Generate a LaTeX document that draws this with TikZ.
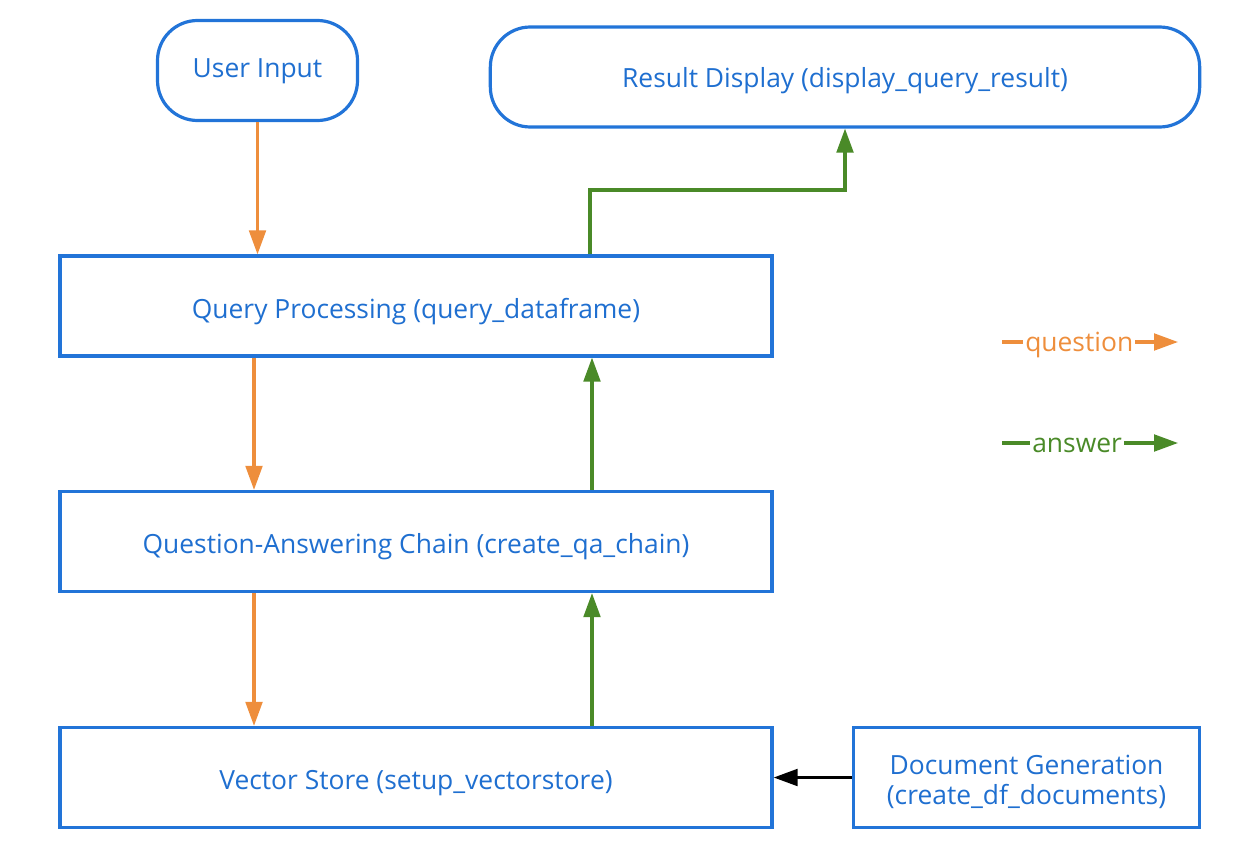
\documentclass[tikz,border=0pt]{standalone}
\usepackage{fontspec}
\setmainfont{Open Sans}
\usetikzlibrary{arrows.meta}
\definecolor{bblue}{HTML}{2274D8}
\definecolor{tblue}{HTML}{1F6FD0}
\definecolor{qorange}{HTML}{EE8E3C}
\definecolor{agreen}{HTML}{4A8A28}
\tikzset{
  box/.style={draw=bblue, line width=2.4pt, text=tblue, font=\fontsize{19.8}{22.5}\selectfont, align=center, inner sep=0pt, text height=18pt, text depth=0pt},
  rbox/.style={box, rounded corners=30pt},
  tip/.style={-{Triangle[length=18pt,width=12.5pt]}},
  oarr/.style={draw=qorange, line width=2.3pt, tip},
  garr/.style={draw=agreen, line width=2.3pt, tip},
  karr/.style={draw=black, line width=2.3pt, tip},
  leg/.style={font=\fontsize{19.8}{22}\selectfont, inner sep=1.5pt}
}
\begin{document}
\begin{tikzpicture}[x=0.75pt,y=-0.75pt]
\useasboundingbox (0,0) rectangle (1244,856);
\node[rbox, minimum width=150pt, minimum height=75pt, text height=11pt] (ui) at (257.5,70.5) {User Input};
\node[rbox, minimum width=532pt, minimum height=75pt, text height=16pt] (rd) at (845,77) {Result Display (display\_query\_result)};
\node[box, minimum width=534pt, minimum height=75pt] (qp) at (416,306) {Query Processing (query\_dataframe)};
\node[box, minimum width=534pt, minimum height=75pt] (qa) at (416,541.5) {Question-Answering Chain (create\_qa\_chain)};
\node[box, minimum width=534pt, minimum height=75pt] (vs) at (416,777.5) {Vector Store (setup\_vectorstore)};
\node[box, minimum width=260pt, minimum height=75pt, text height=40pt] (dg) at (1026.5,777.5) {Document Generation\\(create\_df\_documents)};
\coordinate (xo) at (254,0);
\coordinate (xg) at (592,0);
\coordinate (g1) at (590,190);
\draw[oarr] (ui.south) -- (qp.north -| ui.south);
\draw[oarr] (qp.south -| xo) -- (qa.north -| xo);
\draw[oarr] (qa.south -| xo) -- (vs.north -| xo);
\draw[garr] (qa.north -| xg) -- (qp.south -| xg);
\draw[garr] (vs.north -| xg) -- (qa.south -| xg);
\draw[garr] (qp.north -| g1) -- (g1) -| (rd.south);
\draw[karr] (dg.west) -- (vs.east);
% legend
\coordinate (l1) at (1002,342);
\coordinate (l2) at (1178,342);
\node[leg, text=qorange, anchor=west, yshift=-2pt] (lq) at (1023,342) {question};
\draw[draw=qorange, line width=2.3pt] (l1) -- (l1 -| lq.west);
\draw[oarr] (l1 -| lq.east) -- (l2);
\coordinate (l3) at (1002,443);
\coordinate (l4) at (1178,443);
\node[leg, text=agreen, anchor=west, yshift=-2pt] (la) at (1030,443) {answer};
\draw[draw=agreen, line width=2.3pt] (l3) -- (l3 -| la.west);
\draw[garr] (l3 -| la.east) -- (l4);
\end{tikzpicture}
\end{document}
